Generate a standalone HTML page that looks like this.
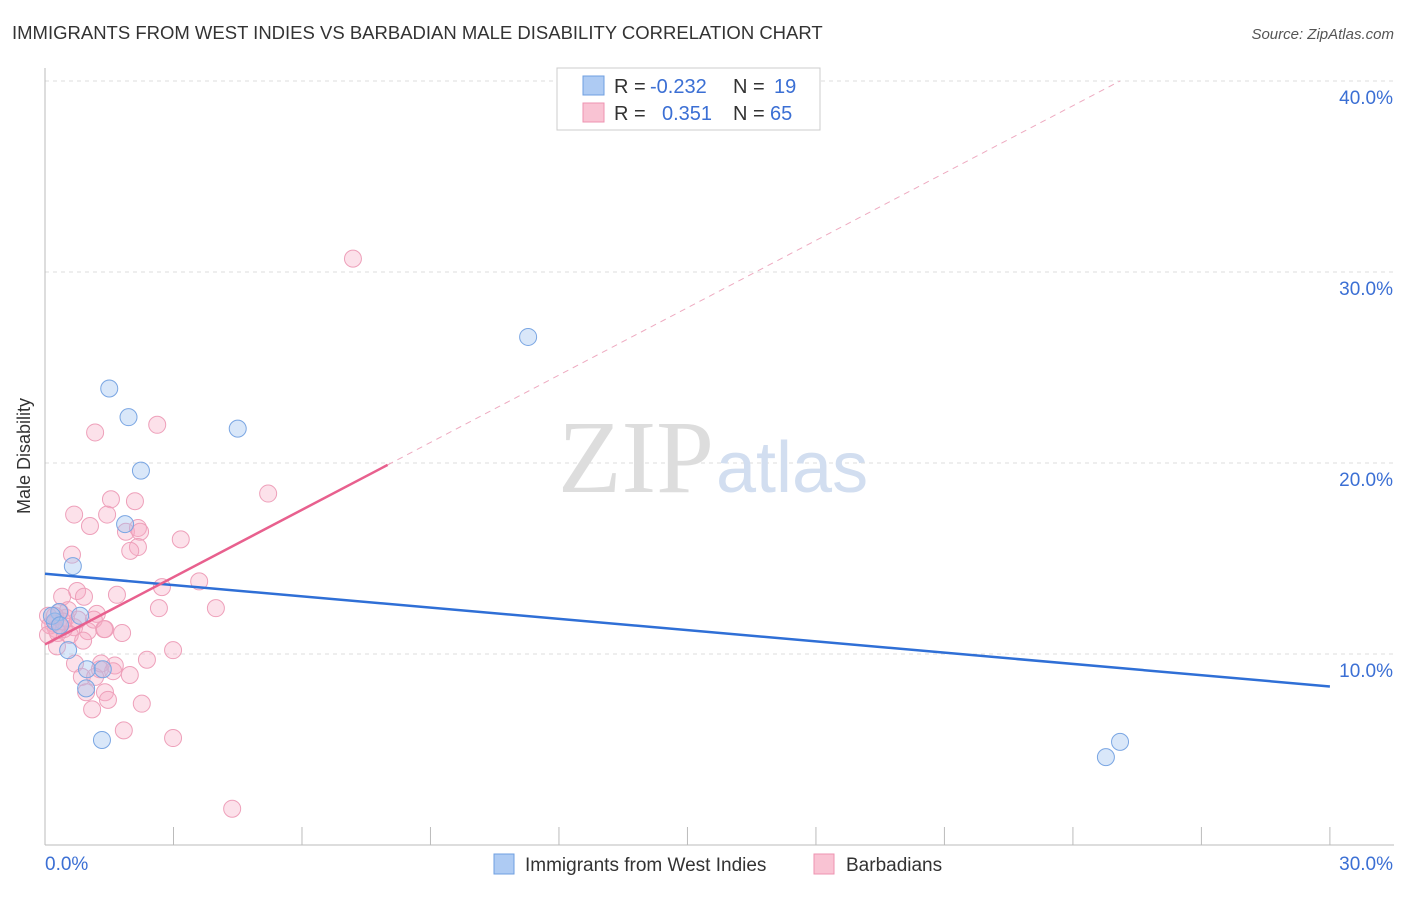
<!DOCTYPE html>
<html><head><meta charset="utf-8"><style>
body{margin:0;background:#fff;font-family:"Liberation Sans",sans-serif;}
</style></head><body>
<svg id="c" width="1406" height="892" xmlns="http://www.w3.org/2000/svg">
<text x="12" y="39" font-size="18.5" fill="#333">IMMIGRANTS FROM WEST INDIES VS BARBADIAN MALE DISABILITY CORRELATION CHART</text>
<text x="1394" y="39" font-size="15" fill="#555" text-anchor="end" font-style="italic">Source: ZipAtlas.com</text>
<text x="30" y="456" font-size="18" fill="#333" text-anchor="middle" transform="rotate(-90 30 456)">Male Disability</text>
<g id="grid"></g>
<text x="714" y="492" font-size="104" fill="#ddd" text-anchor="end" font-family="Liberation Serif">ZIP</text>
<text x="716" y="492" font-size="72" fill="#d2def0">atlas</text>
<g id="marks"></g>
<g>
<rect x="557" y="68" width="263" height="62" fill="#fff" stroke="#ccc"/>
<rect x="583" y="76" width="21" height="19" fill="#aecbf3" stroke="#6f9fe0"/>
<rect x="583" y="103" width="21" height="19" fill="#f9c3d3" stroke="#ee93b0"/>
<text x="614" y="93" font-size="20" fill="#333">R = <tspan fill="#3b6fd4" x="650">-0.232</tspan></text>
<text x="733" y="93" font-size="20" fill="#333">N = <tspan fill="#3b6fd4" x="774">19</tspan></text>
<text x="614" y="120" font-size="20" fill="#333">R = <tspan fill="#3b6fd4" x="662">0.351</tspan></text>
<text x="733" y="120" font-size="20" fill="#333">N = <tspan fill="#3b6fd4" x="770">65</tspan></text>
</g>
<g>
<rect x="494" y="854" width="20" height="20" fill="#aecbf3" stroke="#6f9fe0"/>
<text x="525" y="871" font-size="19" fill="#333">Immigrants from West Indies</text>
<rect x="814" y="854" width="20" height="20" fill="#f9c3d3" stroke="#ee93b0"/>
<text x="846" y="871" font-size="19" fill="#333">Barbadians</text>
</g>
</svg>
<script>
const yTicks=[10,20,30,40];
const xTickLabels=["0.0%","30.0%"];
const blueX=[1.5,1.95,4.5,2.24,1.87,0.65,0.82,0.33,0.23,0.54,0.98,1.35,0.96,1.33,11.28,24.77,25.1,0.16,0.35];
const blueY=[23.9,22.4,21.8,19.6,16.8,14.6,12.0,12.2,11.7,10.2,9.2,9.2,8.2,5.5,26.6,4.6,5.4,12.0,11.5];
const pinkX=[7.19,1.17,2.62,5.21,1.54,2.1,0.68,1.45,1.05,1.89,2.17,2.22,3.17,2.17,1.99,0.63,3.6,2.73,0.75,0.91,1.68,0.4,2.66,3.99,1.21,0.35,0.07,0.49,0.19,0.68,1.0,1.38,0.3,0.58,0.28,2.99,2.38,0.7,1.63,1.28,1.98,0.86,1.17,1.4,0.96,1.47,2.26,1.1,1.84,2.99,4.37,0.12,0.44,0.77,0.54,0.23,1.31,1.59,1.8,0.26,0.89,0.42,1.14,1.4,0.07];
const pinkY=[30.7,21.6,22.0,18.4,18.1,18.0,17.3,17.3,16.7,16.4,16.6,16.4,16.0,15.6,15.4,15.2,13.8,13.5,13.3,13.0,13.1,13.0,12.4,12.4,12.1,12.2,12.0,11.9,11.6,11.4,11.2,11.3,11.1,11.0,10.4,10.2,9.7,9.5,9.4,9.2,8.9,8.8,8.8,8.0,8.0,7.6,7.4,7.1,6.0,5.6,1.9,11.5,11.3,11.8,12.3,12.0,9.5,9.1,11.1,11.3,10.7,11.7,11.8,11.3,11.0];
const blueTrend=[14.2,8.3];
const pinkTrend=[10.5,19.9,40.0];
const pinkSolidEnd=8.0,pinkDashEnd=25.1;
const X=v=>45+v*42.83, Y=v=>845-v*19.1;
const NS="http://www.w3.org/2000/svg";
function mk(t,a,p){const e=document.createElementNS(NS,t);for(const k in a)e.setAttribute(k,a[k]);p.appendChild(e);return e;}
const g=document.getElementById('grid'), m=document.getElementById('marks');
yTicks.forEach(t=>{
 const l=mk('line',{x1:45,x2:1394,y1:Y(t),y2:Y(t),stroke:'#ddd','stroke-dasharray':'4,4'},g);
 
 
 const tx=mk('text',{x:1393,y:Y(t)+23,'font-size':19,fill:'#3b6fd4','text-anchor':'end'},g);tx.textContent=t.toFixed(1)+'%';
 
 
});
mk('line',{x1:45,x2:1394,y1:845,y2:845,stroke:'#bbb'},g);
mk('line',{x1:45,x2:45,y1:68,y2:845,stroke:'#bbb'},g);
for(let i=0;i<=10;i++){mk('line',{x1:X(i*3),x2:X(i*3),y1:827,y2:845,stroke:'#bbb'},g);}
const xl0=mk('text',{x:45,y:870,'font-size':19,fill:'#3b6fd4'},g);xl0.textContent=xTickLabels[0];


const xl1=mk('text',{x:1393,y:870,'font-size':19,fill:'#3b6fd4','text-anchor':'end'},g);xl1.textContent=xTickLabels[1];


pinkX.forEach((v,i)=>{const c=mk('circle',{cx:X(v),cy:Y(pinkY[i]),r:8.5,fill:'rgba(246,170,195,0.35)',stroke:'#eea0ba','stroke-width':1},m);
 
 });
blueX.forEach((v,i)=>{const c=mk('circle',{cx:X(v),cy:Y(blueY[i]),r:8.5,fill:'rgba(160,195,240,0.4)',stroke:'#7aa6e3','stroke-width':1},m);
 
 });
const bt=mk('line',{x1:X(0),y1:Y(blueTrend[0]),x2:X(30),y2:Y(blueTrend[1]),stroke:'#2f6fd6','stroke-width':2.5},m);


const pt=mk('line',{x1:X(0),y1:Y(pinkTrend[0]),x2:X(pinkSolidEnd),y2:Y(pinkTrend[1]),stroke:'#e8608e','stroke-width':2.5},m);


const pd=mk('line',{x1:X(pinkSolidEnd),y1:Y(pinkTrend[1]),x2:X(pinkDashEnd),y2:Y(pinkTrend[2]),stroke:'#eeaac0','stroke-width':1,'stroke-dasharray':'6,5'},m);


</script>
</body></html>
